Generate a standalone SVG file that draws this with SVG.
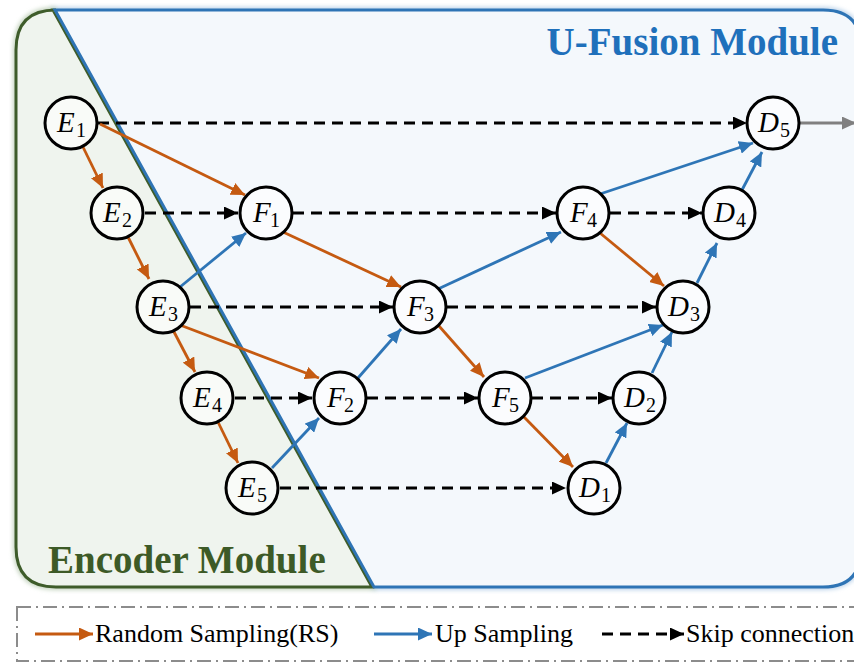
<svg xmlns="http://www.w3.org/2000/svg" width="854" height="662" viewBox="0 0 854 662">
<defs>
<style>
.node circle{fill:#ffffff;fill-opacity:0.6;stroke:#000;stroke-width:3}
.node text{font-family:"Liberation Serif","Times New Roman",serif;fill:#000}
.let{font-size:29px;font-style:italic}
.sub{font-size:20px}
.rs{stroke:#c55a11;stroke-width:2.8;fill:none;marker-end:url(#aO)}
.up{stroke:#2e75b6;stroke-width:2.8;fill:none;marker-end:url(#aB)}
.sk{stroke:#000;stroke-width:2.8;fill:none;stroke-dasharray:11 7;marker-end:url(#aK)}
</style>
<marker id="aO" markerUnits="userSpaceOnUse" markerWidth="15" markerHeight="13" refX="14" refY="6.5" orient="auto"><path d="M0,0 L14,6.5 L0,13 Z" fill="#c55a11"/></marker>
<marker id="aB" markerUnits="userSpaceOnUse" markerWidth="15" markerHeight="13" refX="14" refY="6.5" orient="auto"><path d="M0,0 L14,6.5 L0,13 Z" fill="#2e75b6"/></marker>
<marker id="aK" markerUnits="userSpaceOnUse" markerWidth="15" markerHeight="13" refX="14" refY="6.5" orient="auto"><path d="M0,0 L14,6.5 L0,13 Z" fill="#000"/></marker>
<marker id="aG" markerUnits="userSpaceOnUse" markerWidth="15" markerHeight="13" refX="14" refY="6.5" orient="auto"><path d="M0,0 L14,6.5 L0,13 Z" fill="#808080"/></marker>
<filter id="glow" x="-5%" y="-5%" width="110%" height="110%"><feGaussianBlur stdDeviation="2"/></filter>
</defs>

<g id="background">
<path d="M55,10 L823,10 Q861,10 861,48 L861,549 Q861,587 823,587 L374,587 Z" fill="none" stroke="#bcd3ea" stroke-width="6" filter="url(#glow)"/>
<path d="M56,10 Q16,10 16,50 L16,547 Q16,587 56,587 L372,587 L53,10 Z" fill="none" stroke="#c5d4c0" stroke-width="6" filter="url(#glow)"/>
<path d="M56,10 Q16,10 16,50 L16,547 Q16,587 56,587 L372,587 L53,10 Z" fill="#eff4ee" stroke="#3e5c2a" stroke-width="3"/>
<path d="M55,10 L823,10 Q861,10 861,48 L861,549 Q861,587 823,587 L374,587 Z" fill="#f4f8fc" stroke="#2e74b5" stroke-width="3"/>
<text x="838" y="55" text-anchor="end" fill="#1f70bb" font-family="Liberation Serif, serif" font-weight="bold" font-size="39">U-Fusion Module</text>
<text x="48" y="573" fill="#3d5a27" font-family="Liberation Serif, serif" font-weight="bold" font-size="39">Encoder Module</text>
</g>

<g id="connectors">
<line class="sk" x1="98" y1="123" x2="747" y2="123"/>
<line class="sk" x1="145" y1="213" x2="238" y2="213"/>
<line class="sk" x1="293" y1="213" x2="556" y2="213"/>
<line class="sk" x1="610" y1="213" x2="702" y2="213"/>
<line class="sk" x1="190" y1="307" x2="393" y2="307"/>
<line class="sk" x1="447" y1="307" x2="656" y2="307"/>
<line class="sk" x1="235" y1="398" x2="312" y2="398"/>
<line class="sk" x1="367" y1="398" x2="478" y2="398"/>
<line class="sk" x1="532" y1="398" x2="612" y2="398"/>
<line class="sk" x1="280" y1="488" x2="566" y2="488"/>

<line class="rs" x1="83" y1="147" x2="103" y2="188"/>
<line class="rs" x1="100" y1="124" x2="245" y2="195"/>
<line class="rs" x1="128" y1="237" x2="149" y2="279"/>
<line class="rs" x1="173" y1="330" x2="195" y2="372"/>
<line class="rs" x1="180" y1="325" x2="319" y2="378"/>
<line class="rs" x1="218" y1="422" x2="238" y2="463"/>
<line class="rs" x1="283" y1="232" x2="401" y2="287"/>
<line class="rs" x1="439" y1="326" x2="484" y2="377"/>
<line class="rs" x1="600" y1="233" x2="664" y2="286"/>
<line class="rs" x1="524" y1="417" x2="573" y2="467"/>

<line class="up" x1="180" y1="287" x2="246" y2="233"/>
<line class="up" x1="272" y1="468" x2="319" y2="418"/>
<line class="up" x1="358" y1="378" x2="401" y2="329"/>
<line class="up" x1="438" y1="289" x2="561" y2="232"/>
<line class="up" x1="600" y1="194" x2="753" y2="143"/>
<line class="up" x1="742" y1="190" x2="762" y2="152"/>
<line class="up" x1="697" y1="283" x2="717" y2="243"/>
<line class="up" x1="525" y1="378" x2="663" y2="325"/>
<line class="up" x1="652" y1="373" x2="672" y2="332"/>
<line class="up" x1="606" y1="463" x2="627" y2="423"/>

<line x1="800" y1="123" x2="856" y2="123" stroke="#808080" stroke-width="2.8" marker-end="url(#aG)"/>
</g>

<g id="E1" class="node"><circle cx="71" cy="123" r="26"/><text class="let" x="57" y="132">E</text><text class="sub" x="76" y="137">1</text></g>
<g id="E2" class="node"><circle cx="117" cy="213" r="26"/><text class="let" x="103" y="222">E</text><text class="sub" x="122" y="227">2</text></g>
<g id="E3" class="node"><circle cx="163" cy="307" r="26"/><text class="let" x="149" y="316">E</text><text class="sub" x="168" y="321">3</text></g>
<g id="E4" class="node"><circle cx="207" cy="398" r="26"/><text class="let" x="193" y="407">E</text><text class="sub" x="212" y="412">4</text></g>
<g id="E5" class="node"><circle cx="252" cy="488" r="26"/><text class="let" x="238" y="497">E</text><text class="sub" x="257" y="502">5</text></g>
<g id="F1" class="node"><circle cx="266" cy="213" r="26"/><text class="let" x="253" y="222">F</text><text class="sub" x="270" y="227">1</text></g>
<g id="F2" class="node"><circle cx="340" cy="398" r="26"/><text class="let" x="327" y="407">F</text><text class="sub" x="344" y="412">2</text></g>
<g id="F3" class="node"><circle cx="420" cy="307" r="26"/><text class="let" x="407" y="316">F</text><text class="sub" x="424" y="321">3</text></g>
<g id="F4" class="node"><circle cx="583" cy="213" r="26"/><text class="let" x="570" y="222">F</text><text class="sub" x="587" y="227">4</text></g>
<g id="F5" class="node"><circle cx="505" cy="398" r="26"/><text class="let" x="492" y="407">F</text><text class="sub" x="509" y="412">5</text></g>
<g id="D1" class="node"><circle cx="594" cy="488" r="26"/><text class="let" x="579" y="497">D</text><text class="sub" x="601" y="502">1</text></g>
<g id="D2" class="node"><circle cx="639" cy="398" r="26"/><text class="let" x="624" y="407">D</text><text class="sub" x="646" y="412">2</text></g>
<g id="D3" class="node"><circle cx="683" cy="307" r="26"/><text class="let" x="668" y="316">D</text><text class="sub" x="690" y="321">3</text></g>
<g id="D4" class="node"><circle cx="729" cy="213" r="26"/><text class="let" x="714" y="222">D</text><text class="sub" x="736" y="227">4</text></g>
<g id="D5" class="node"><circle cx="773" cy="123" r="26"/><text class="let" x="758" y="132">D</text><text class="sub" x="780" y="137">5</text></g>

<g id="legend" font-family="Liberation Serif, serif" font-size="26" fill="#000">
<rect x="17" y="607" width="850" height="54" fill="none" stroke="#8c8c8c" stroke-width="2" stroke-dasharray="14 5 2 5"/>
<line x1="35" y1="634" x2="93" y2="634" stroke="#c55a11" stroke-width="2.8" marker-end="url(#aO)"/>
<text x="95" y="642">Random Sampling(RS)</text>
<line x1="374" y1="634" x2="432" y2="634" stroke="#2e75b6" stroke-width="2.8" marker-end="url(#aB)"/>
<text x="435" y="642">Up Sampling</text>
<line x1="602" y1="634" x2="684" y2="634" stroke="#000" stroke-width="2.8" stroke-dasharray="11 7" marker-end="url(#aK)"/>
<text x="686" y="642">Skip connection</text>
</g>
</svg>
